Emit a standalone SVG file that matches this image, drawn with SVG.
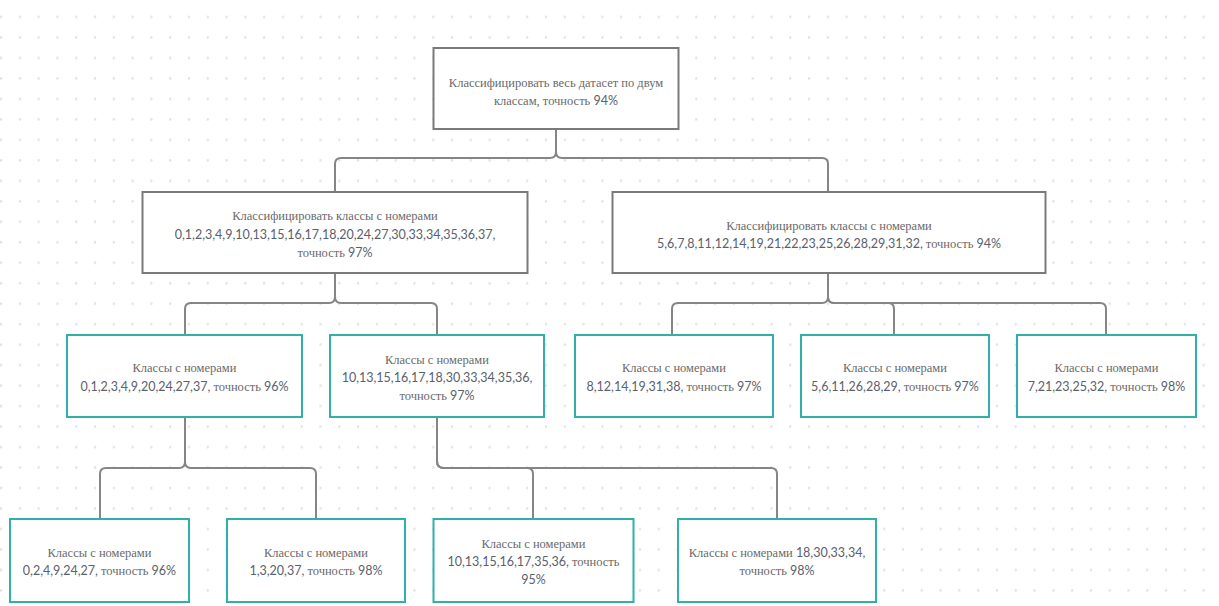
<svg xmlns="http://www.w3.org/2000/svg" width="1219" height="606" viewBox="0 0 1219 606">
<defs>
<pattern id="dots" x="0" y="0" width="18.79" height="20.48" patternUnits="userSpaceOnUse">
<circle cx="1" cy="17" r="1.3" fill="#e2e2e2"/>
</pattern>
<style>
.box{fill:#fff;stroke:#7a7a7a;stroke-width:2}
.leaf{fill:#fff;stroke:#2fb0aa;stroke-width:2}
.con{fill:none;stroke:#858585;stroke-width:2}
text{font-size:12.5px;text-anchor:middle}
.c{font-family:"Liberation Serif","Times New Roman",serif;fill:#6a6a6a}
.n{font-family:Lato,"Liberation Sans",sans-serif;fill:#5a606c}
</style>
</defs>
<rect width="1219" height="606" fill="#fff"/>
<rect width="1219" height="606" fill="url(#dots)"/>
<g id="connectors">
<path class="con" d="M556 129 V152 Q556 158 550 158 H341 Q335 158 335 164 V192"/>
<path class="con" d="M556 129 V152 Q556 158 562 158 H822 Q828 158 828 164 V192"/>
<path class="con" d="M335 273 V297 Q335 303 329 303 H191 Q185 303 185 309 V335"/>
<path class="con" d="M335 273 V297 Q335 303 341 303 H431 Q437 303 437 309 V335"/>
<path class="con" d="M828 273 V297 Q828 303 822 303 H678 Q672 303 672 309 V335"/>
<path class="con" d="M828 273 V297 Q828 303 834 303 H888 Q894 303 894 309 V335"/>
<path class="con" d="M828 273 V297 Q828 303 834 303 H1100 Q1106 303 1106 309 V335"/>
<path class="con" d="M185 417 V462 Q185 468 179 468 H106 Q100 468 100 474 V519"/>
<path class="con" d="M185 417 V462 Q185 468 191 468 H310 Q316 468 316 474 V519"/>
<path class="con" d="M437 417 V461 Q437 468 444 468 H527 Q533 468 533 474 V519"/>
<path class="con" d="M437 417 V461 Q437 468 444 468 H771 Q777 468 777 474 V519"/>
</g>
<g id="root">
<rect class="box" x="433.5" y="48" width="245" height="81"/>
<text x="556" y="87"><tspan class="c">Классифицировать весь датасет по двум</tspan></text>
<text x="556" y="104.5"><tspan class="c">классам, точность </tspan><tspan class="n">94%</tspan></text>
</g>
<g id="l2-left">
<rect class="box" x="142.5" y="192" width="385" height="81"/>
<text x="335" y="219.5"><tspan class="c">Классифицировать классы с номерами</tspan></text>
<text x="335" y="238.5"><tspan class="n">0,1,2,3,4,9,10,13,15,16,17,18,20,24,27,30,33,34,35,36,37,</tspan></text>
<text x="335" y="257"><tspan class="c">точность </tspan><tspan class="n">97%</tspan></text>
</g>
<g id="l2-right">
<rect class="box" x="612.5" y="192" width="433" height="81"/>
<text x="829" y="229.5"><tspan class="c">Классифицировать классы с номерами</tspan></text>
<text x="829" y="248"><tspan class="n">5,6,7,8,11,12,14,19,21,22,23,25,26,28,29,31,32,</tspan><tspan class="c"> точность </tspan><tspan class="n">94%</tspan></text>
</g>
<g id="a">
<rect class="leaf" x="67" y="335" width="235" height="82"/>
<text x="184.5" y="372"><tspan class="c">Классы с номерами</tspan></text>
<text x="184.5" y="390.5"><tspan class="n">0,1,2,3,4,9,20,24,27,37,</tspan><tspan class="c"> точность </tspan><tspan class="n">96%</tspan></text>
</g>
<g id="b">
<rect class="leaf" x="330" y="335" width="214" height="82"/>
<text x="437" y="363.5"><tspan class="c">Классы с номерами</tspan></text>
<text x="437" y="382"><tspan class="n">10,13,15,16,17,18,30,33,34,35,36,</tspan></text>
<text x="437" y="400"><tspan class="c">точность </tspan><tspan class="n">97%</tspan></text>
</g>
<g id="c">
<rect class="leaf" x="575" y="335" width="198" height="82"/>
<text x="674" y="372"><tspan class="c">Классы с номерами</tspan></text>
<text x="674" y="390.5"><tspan class="n">8,12,14,19,31,38,</tspan><tspan class="c"> точность </tspan><tspan class="n">97%</tspan></text>
</g>
<g id="d">
<rect class="leaf" x="801" y="335" width="188" height="82"/>
<text x="895" y="372"><tspan class="c">Классы с номерами</tspan></text>
<text x="895" y="390.5"><tspan class="n">5,6,11,26,28,29,</tspan><tspan class="c"> точность </tspan><tspan class="n">97%</tspan></text>
</g>
<g id="e">
<rect class="leaf" x="1017" y="335" width="179" height="82"/>
<text x="1106.5" y="372"><tspan class="c">Классы с номерами</tspan></text>
<text x="1106.5" y="390.5"><tspan class="n">7,21,23,25,32,</tspan><tspan class="c"> точность </tspan><tspan class="n">98%</tspan></text>
</g>
<g id="f">
<rect class="leaf" x="10" y="519" width="179" height="83"/>
<text x="99.5" y="556.5"><tspan class="c">Классы с номерами</tspan></text>
<text x="99.5" y="574.5"><tspan class="n">0,2,4,9,24,27,</tspan><tspan class="c"> точность </tspan><tspan class="n">96%</tspan></text>
</g>
<g id="g">
<rect class="leaf" x="227" y="519" width="178" height="83"/>
<text x="316" y="556.5"><tspan class="c">Классы с номерами</tspan></text>
<text x="316" y="574.5"><tspan class="n">1,3,20,37,</tspan><tspan class="c"> точность </tspan><tspan class="n">98%</tspan></text>
</g>
<g id="h">
<rect class="leaf" x="433.5" y="519" width="200" height="83"/>
<text x="533.5" y="547.5"><tspan class="c">Классы с номерами</tspan></text>
<text x="533.5" y="566"><tspan class="n">10,13,15,16,17,35,36,</tspan><tspan class="c"> точность</tspan></text>
<text x="533.5" y="583.5"><tspan class="n">95%</tspan></text>
</g>
<g id="i">
<rect class="leaf" x="678" y="519" width="198" height="83"/>
<text x="777" y="556.5"><tspan class="c">Классы с номерами </tspan><tspan class="n">18,30,33,34,</tspan></text>
<text x="777" y="574.5"><tspan class="c">точность </tspan><tspan class="n">98%</tspan></text>
</g>
</svg>
